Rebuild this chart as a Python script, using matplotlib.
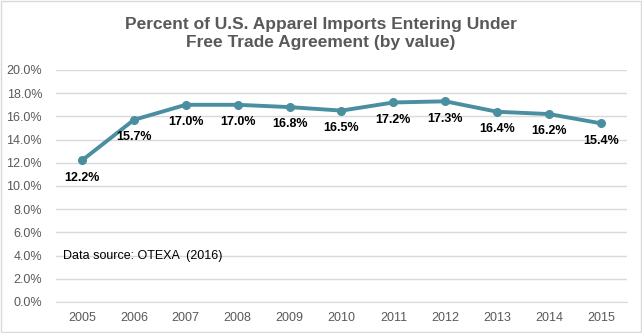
import matplotlib.pyplot as plt
from matplotlib.patches import Rectangle

plt.rcParams['font.family'] = ['Liberation Sans', 'DejaVu Sans']

years = ['2005', '2006', '2007', '2008', '2009', '2010', '2011', '2012', '2013', '2014', '2015']
share = [12.2, 15.7, 17.0, 17.0, 16.8, 16.5, 17.2, 17.3, 16.4, 16.2, 15.4]

fig = plt.figure(figsize=(6.42, 3.33), dpi=100)
ax = fig.add_axes([0.0872, 0.0931, 0.8894, 0.6967])

x = range(len(years))
ax.plot(x, share, color='#4A8FA0', lw=2.8, marker='o', ms=5.5, zorder=3)

for i, v in enumerate(share):
    ax.annotate('%.1f%%' % v, (i, v), xytext=(0, -12.5), textcoords='offset points',
                ha='center', va='center', fontsize=9, fontweight='bold', color='black')

ax.set_xlim(-0.5, len(years) - 0.5)
ax.set_ylim(0, 20)
ax.set_yticks(range(0, 21, 2))
ax.set_yticklabels(['%.1f%%' % t for t in range(0, 21, 2)])
ax.set_xticks(list(x))
ax.set_xticklabels(years)
ax.grid(axis='y', color='#D9D9D9', lw=1)
ax.set_axisbelow(True)
for s in ax.spines.values():
    s.set_visible(False)
ax.spines['bottom'].set_visible(True)
ax.spines['bottom'].set_color('#D9D9D9')
ax.tick_params(axis='y', length=0, labelsize=9, colors='#595959', pad=10)
ax.tick_params(axis='x', length=0, labelsize=9, colors='#595959', pad=7)

ax.text(0.012, 0.2, 'Data source: OTEXA  (2016)', transform=ax.transAxes,
        fontsize=9, color='black', va='center')

fig.text(0.5, 0.9, 'Percent of U.S. Apparel Imports Entering Under\nFree Trade Agreement (by value)',
         ha='center', va='center', fontsize=12.5, fontweight='bold', color='#595959', linespacing=1.25)

fig.patches.append(Rectangle((0.002, 0.003), 0.996, 0.994, transform=fig.transFigure,
                             fill=False, edgecolor='#D9D9D9', lw=1))

fig.savefig('out.png', dpi=100)
